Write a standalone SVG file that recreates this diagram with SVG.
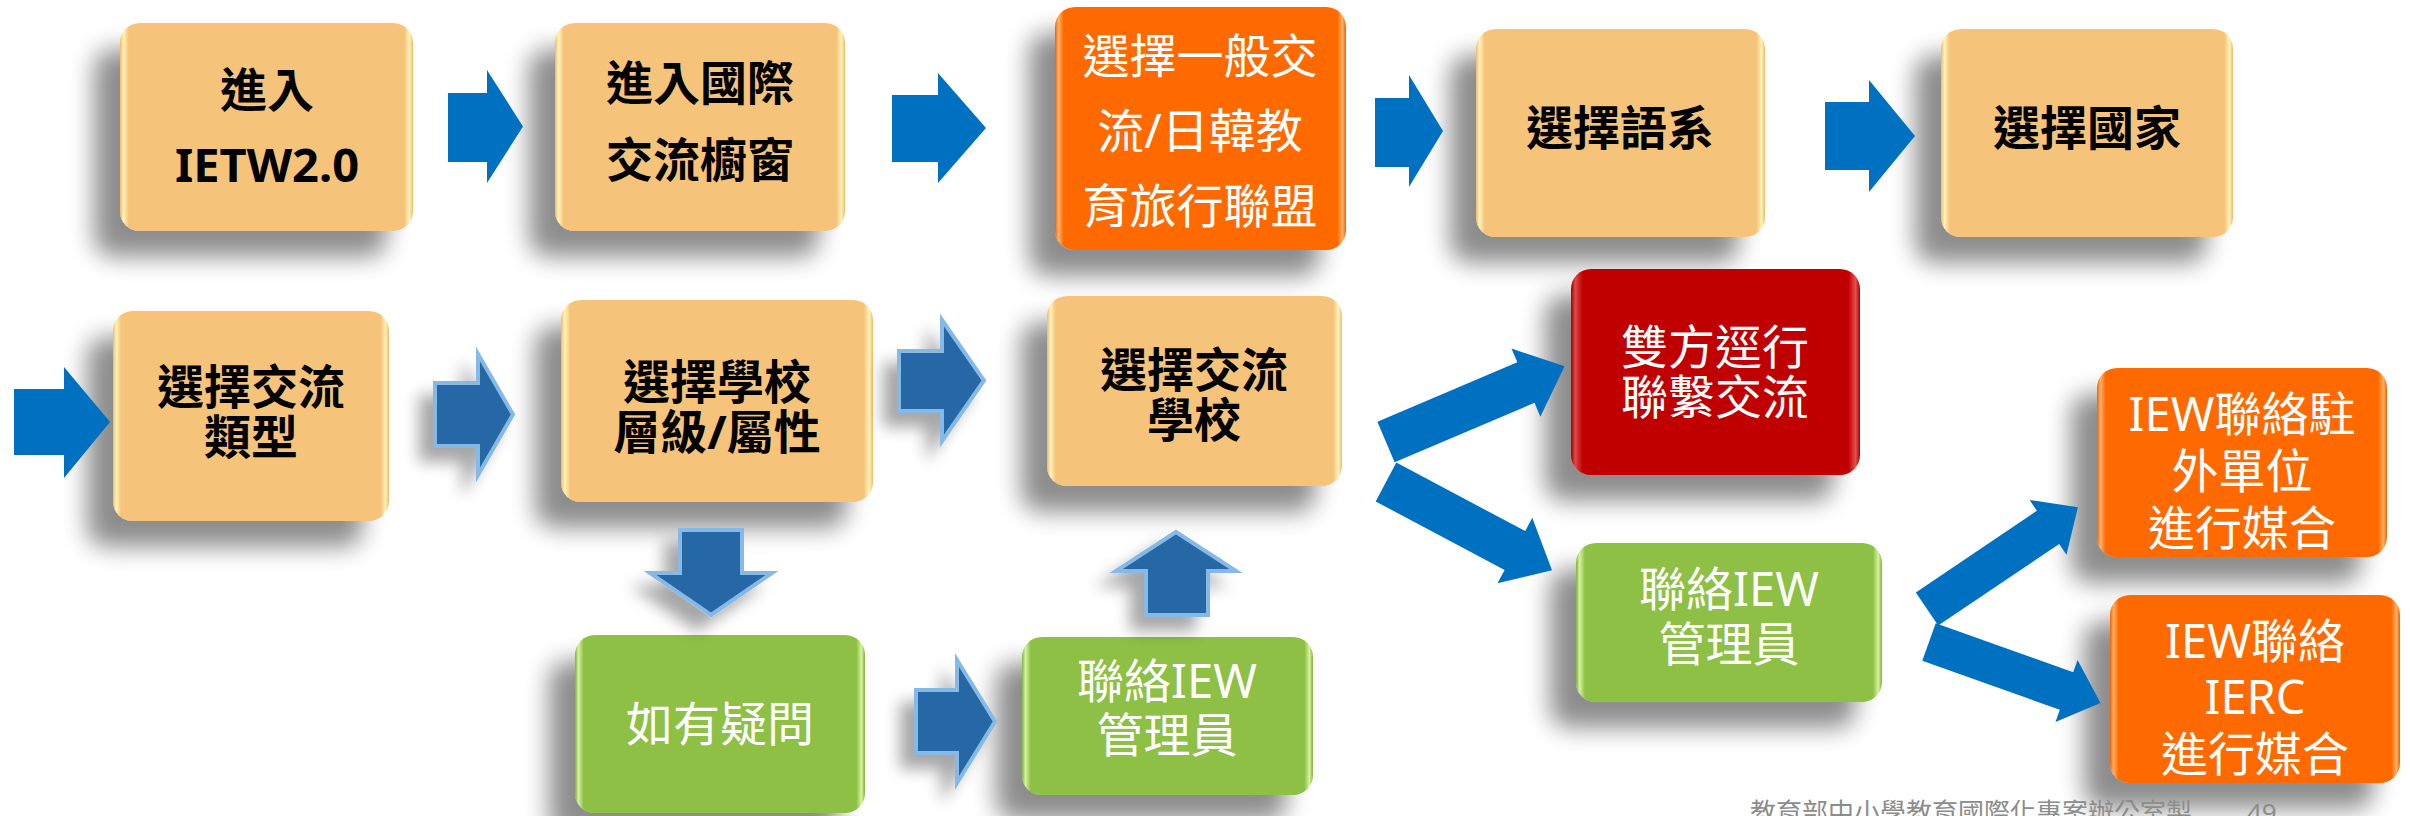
<svg xmlns="http://www.w3.org/2000/svg" width="2410" height="816" viewBox="0 0 2410 816">
<defs>
<style>
.t{font-family:"Noto Sans","Noto Sans CJK TC","Noto Sans CJK SC",sans-serif;text-anchor:middle;font-size:47px}
.dk{fill:#000;font-weight:700}
.wh{fill:#fff;font-weight:400}
.ft{font-family:"Noto Sans","Noto Sans CJK TC",sans-serif;font-size:26px;fill:#8c8c8c}
.tan{fill:url(#gTan)}
.org{fill:url(#gOrg)}
.grn{fill:url(#gGrn)}
.red{fill:url(#gRed)}
.box{filter:url(#sh)}
.flat{fill:#0070C0}
.bev{fill:#2767A6;stroke:#86B9E4;stroke-width:4;stroke-linejoin:miter;filter:url(#shA)}
</style>
<linearGradient id="gTan" x1="0" y1="0" x2="1" y2="0">
<stop offset="0" stop-color="#F2B866"/><stop offset="0.012" stop-color="#FFF3B8"/><stop offset="0.03" stop-color="#F6C37A"/>
<stop offset="0.97" stop-color="#F6C37A"/><stop offset="0.988" stop-color="#FFF3B8"/><stop offset="1" stop-color="#F2B866"/>
</linearGradient>
<linearGradient id="gOrg" x1="0" y1="0" x2="1" y2="0">
<stop offset="0" stop-color="#F26000"/><stop offset="0.012" stop-color="#FFB066"/><stop offset="0.03" stop-color="#FF6A00"/>
<stop offset="0.97" stop-color="#FF6A00"/><stop offset="0.988" stop-color="#FFB066"/><stop offset="1" stop-color="#F26000"/>
</linearGradient>
<linearGradient id="gGrn" x1="0" y1="0" x2="1" y2="0">
<stop offset="0" stop-color="#7FB23A"/><stop offset="0.012" stop-color="#D6F2A0"/><stop offset="0.03" stop-color="#8DC044"/>
<stop offset="0.97" stop-color="#8DC044"/><stop offset="0.988" stop-color="#D6F2A0"/><stop offset="1" stop-color="#7FB23A"/>
</linearGradient>
<linearGradient id="gRed" x1="0" y1="0" x2="1" y2="0">
<stop offset="0" stop-color="#A00000"/><stop offset="0.015" stop-color="#E04848"/><stop offset="0.04" stop-color="#C00000"/>
<stop offset="0.96" stop-color="#C00000"/><stop offset="0.985" stop-color="#E85050"/><stop offset="1" stop-color="#A00000"/>
</linearGradient>
<filter id="sh" x="-30%" y="-30%" width="160%" height="170%">
<feGaussianBlur in="SourceAlpha" stdDeviation="12"/>
<feOffset dx="-26" dy="26"/>
<feComponentTransfer><feFuncA type="linear" slope="0.45"/></feComponentTransfer>
<feMerge><feMergeNode/><feMergeNode in="SourceGraphic"/></feMerge>
</filter>
<filter id="shA" x="-40%" y="-40%" width="180%" height="180%">
<feGaussianBlur in="SourceAlpha" stdDeviation="8"/>
<feOffset dx="-14" dy="14"/>
<feComponentTransfer><feFuncA type="linear" slope="0.35"/></feComponentTransfer>
<feMerge><feMergeNode/><feMergeNode in="SourceGraphic"/></feMerge>
</filter>
</defs>
<rect width="2410" height="816" fill="#fff"/>

<g id="n-enter">
<rect class="box tan" x="120" y="23" width="293" height="208" rx="20"/>
<text class="t dk" x="267" y="107">進入</text>
<text class="t dk" x="267" y="182">IETW2.0</text>
</g>
<g id="n-window">
<rect class="box tan" x="555" y="23" width="290" height="208" rx="20"/>
<text class="t dk" x="700" y="100">進入國際</text>
<text class="t dk" x="700" y="177">交流櫥窗</text>
</g>
<g id="n-general">
<rect class="box org" x="1055" y="7" width="291" height="243" rx="20"/>
<text class="t wh" x="1200" y="73">選擇一般交</text>
<text class="t wh" x="1200" y="148">流/日韓教</text>
<text class="t wh" x="1200" y="223">育旅行聯盟</text>
</g>
<g id="n-lang">
<rect class="box tan" x="1476" y="29" width="289" height="208" rx="20"/>
<text class="t dk" x="1620" y="145">選擇語系</text>
</g>
<g id="n-country">
<rect class="box tan" x="1941" y="29" width="292" height="208" rx="20"/>
<text class="t dk" x="2087" y="145">選擇國家</text>
</g>
<g id="n-type">
<rect class="box tan" x="113" y="311" width="276" height="210" rx="20"/>
<text class="t dk" x="251" y="404">選擇交流</text>
<text class="t dk" x="251" y="454">類型</text>
</g>
<g id="n-level">
<rect class="box tan" x="561" y="300" width="312" height="202" rx="20"/>
<text class="t dk" x="717" y="399">選擇學校</text>
<text class="t dk" x="717" y="449">層級/屬性</text>
</g>
<g id="n-school">
<rect class="box tan" x="1047" y="296" width="295" height="190" rx="20"/>
<text class="t dk" x="1194" y="387">選擇交流</text>
<text class="t dk" x="1194" y="437">學校</text>
</g>
<g id="n-direct">
<rect class="box red" x="1571" y="269" width="289" height="206" rx="20"/>
<text class="t wh" x="1715" y="364">雙方逕行</text>
<text class="t wh" x="1715" y="414">聯繫交流</text>
</g>
<g id="n-question">
<rect class="box grn" x="575" y="635" width="290" height="178" rx="20"/>
<text class="t wh" x="720" y="741">如有疑問</text>
</g>
<g id="n-admin1">
<rect class="box grn" x="1022" y="637" width="291" height="158" rx="20"/>
<text class="t wh" x="1167" y="698">聯絡IEW</text>
<text class="t wh" x="1167" y="752">管理員</text>
</g>
<g id="n-admin2">
<rect class="box grn" x="1576" y="543" width="306" height="159" rx="20"/>
<text class="t wh" x="1729" y="606">聯絡IEW</text>
<text class="t wh" x="1729" y="661">管理員</text>
</g>
<g id="n-overseas">
<rect class="box org" x="2097" y="368" width="290" height="189" rx="20"/>
<text class="t wh" x="2242" y="431">IEW聯絡駐</text>
<text class="t wh" x="2242" y="488">外單位</text>
<text class="t wh" x="2242" y="545">進行媒合</text>
</g>
<g id="n-ierc">
<rect class="box org" x="2110" y="595" width="290" height="188" rx="20"/>
<text class="t wh" x="2255" y="658">IEW聯絡</text>
<text class="t wh" x="2255" y="714">IERC</text>
<text class="t wh" x="2255" y="771">進行媒合</text>
</g>

<g id="connectors">
<polygon class="flat" points="448,93 487,93 487,70 523,126.5 487,183 487,162 448,162"/>
<polygon class="flat" points="892,95 938,95 938,73 986,128 938,183 938,162 892,162"/>
<polygon class="flat" points="1375,98 1409,98 1409,75 1443,131 1409,187 1409,167 1375,167"/>
<polygon class="flat" points="1825,102 1869,102 1869,80 1915,136 1869,192 1869,170 1825,170"/>
<polygon class="flat" points="14,389 64,389 64,367 110,422 64,478 64,455 14,455"/>
<polygon class="bev" points="435,383 478,383 478,354 513,414.5 478,475 478,446 435,446"/>
<polygon class="bev" points="899,351 942,351 942,320 984,380.5 942,441 942,411 899,411"/>
<polygon class="bev" points="916,690 957,690 957,660 995,721.5 957,783 957,753 916,753"/>
<polygon class="bev" points="680,530 742,530 742,573 772,573 711,615 650,573 680,573"/>
<polygon class="bev" points="1146,615 1208,615 1208,571 1236,571 1176,532 1116,571 1146,571"/>
<polygon class="flat" transform="translate(1386,442) rotate(-23)" points="0,-22 152,-22 152,-37 194,0 152,37 152,22 0,22"/>
<polygon class="flat" transform="translate(1386,482) rotate(28)" points="0,-22 146,-22 146,-37 188,0 146,37 146,22 0,22"/>
<polygon class="flat" transform="translate(1927,609) rotate(-34)" points="0,-20 146,-20 146,-33 182,0 146,33 146,20 0,20"/>
<polygon class="flat" transform="translate(1929,642) rotate(19.6)" points="0,-20 146,-20 146,-33 182,0 146,33 146,20 0,20"/>
</g>

<g id="footer">
<text class="ft" x="1750" y="822">教育部中小學教育國際化專案辦公室製</text>
<text class="ft" x="2247" y="822">49</text>
</g>
</svg>
